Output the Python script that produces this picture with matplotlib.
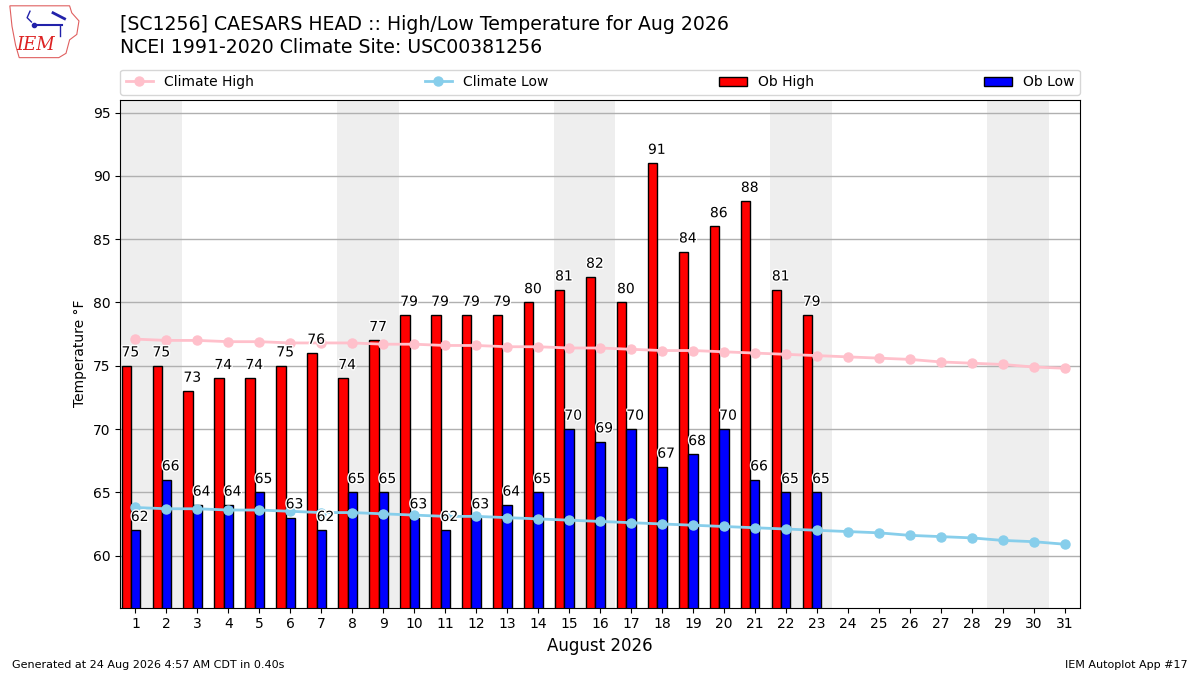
import matplotlib
matplotlib.use("Agg")
import matplotlib.pyplot as plt
import matplotlib.patheffects as pe
from matplotlib.patches import Polygon
import numpy as np

days = list(range(1, 32))
clim_high = [77.1, 77.0, 77.0, 76.9, 76.9, 76.8, 76.8, 76.8, 76.7, 76.7, 76.6, 76.6,
             76.5, 76.5, 76.4, 76.4, 76.3, 76.2, 76.2, 76.1, 76.0, 75.9, 75.8, 75.7,
             75.6, 75.5, 75.3, 75.2, 75.1, 74.9, 74.8]
clim_low = [63.8, 63.7, 63.7, 63.6, 63.6, 63.5, 63.4, 63.4, 63.3, 63.2, 63.1, 63.1,
            63.0, 62.9, 62.8, 62.7, 62.6, 62.5, 62.4, 62.3, 62.2, 62.1, 62.0, 61.9,
            61.8, 61.6, 61.5, 61.4, 61.2, 61.1, 60.9]
ob_days = list(range(1, 24))
ob_high = [75, 75, 73, 74, 74, 75, 76, 74, 77, 79, 79, 79, 79, 80, 81, 82, 80, 91, 84, 86, 88, 81, 79]
ob_low = [62, 66, 64, 64, 65, 63, 62, 65, 65, 63, 62, 63, 64, 65, 70, 69, 70, 67, 68, 70, 66, 65, 65]
weekend_starts = [1, 8, 15, 22, 29]

title1 = "[SC1256] CAESARS HEAD :: High/Low Temperature for Aug 2026"
title2 = "NCEI 1991-2020 Climate Site: USC00381256"

fig = plt.figure(figsize=(12, 6.75), dpi=100)
ax = fig.add_axes([0.1, 0.1, 0.8, 0.752])

for d in weekend_starts:
    ax.axvspan(d - 0.5, d + 1.5, color="#eeeeee", zorder=0, lw=0)

od = np.array(ob_days)
ax.bar(od - 0.3, ob_high, width=0.3, color="red", edgecolor="black", lw=1,
       label="Ob High", zorder=2)
ax.bar(od, ob_low, width=0.3, color="blue", edgecolor="black", lw=1,
       label="Ob Low", zorder=2)

ax.plot(days, clim_high, marker="o", color="pink", lw=2, ms=6.5,
        label="Climate High", zorder=3)
ax.plot(days, clim_low, marker="o", color="skyblue", lw=2, ms=6.5,
        label="Climate Low", zorder=3)

stroke = [pe.withStroke(linewidth=2, foreground="white")]
for d, v in zip(ob_days, ob_high):
    ax.text(d - 0.45, v + 0.5, f"{v}", ha="left", va="bottom", fontsize=10,
            zorder=4, path_effects=stroke)
for d, v in zip(ob_days, ob_low):
    ax.text(d - 0.15, v + 0.5, f"{v}", ha="left", va="bottom", fontsize=10,
            zorder=4, path_effects=stroke)

ax.set_xlim(0.5, 31.5)
ax.set_ylim(55.9, 96.0)
ax.set_xticks(days)
ax.set_yticks(range(60, 96, 5))
ax.set_axisbelow(True)
ax.yaxis.grid(True, color="#b0b0b0", lw=1)
ax.set_xlabel("August 2026", fontsize=12)
ax.set_ylabel("Temperature °F", fontsize=10)

handles, labels = ax.get_legend_handles_labels()
order = [labels.index(n) for n in ["Climate High", "Climate Low", "Ob High", "Ob Low"]]
ax.legend([handles[i] for i in order], [labels[i] for i in order],
          loc="lower left", bbox_to_anchor=(0.0, 1.01, 1.0, 0.05), mode="expand",
          ncol=4, borderaxespad=0, fontsize=10)

fig.text(0.1, 0.963, title1, fontsize=13.6, ha="left", va="center")
fig.text(0.1, 0.929, title2, fontsize=13.6, ha="left", va="center")

fig.text(0.01, 0.015, "Generated at 24 Aug 2026 4:57 AM CDT in 0.40s", fontsize=8,
         ha="left", va="center")
fig.text(0.99, 0.015, "IEM Autoplot App #17", fontsize=8, ha="right", va="center")

# simple IEM logo
lax = fig.add_axes([0.007, 0.913, 0.060, 0.080])
lax.set_xlim(0, 1)
lax.set_ylim(0, 1)
lax.axis("off")
outline = [(0.02, 0.98), (0.85, 0.98), (0.88, 0.85), (0.98, 0.7), (0.95, 0.45),
           (0.85, 0.35), (0.8, 0.1), (0.7, 0.02), (0.15, 0.02), (0.1, 0.25),
           (0.05, 0.6), (0.02, 0.98)]
lax.add_patch(Polygon(outline, closed=True, fill=False, edgecolor="#e06060", lw=0.8))
lax.text(0.38, 0.25, "IEM", color="#dd2222", fontsize=13, family="DejaVu Serif",
         style="italic", ha="center", va="center")
lax.plot([0.35, 0.75], [0.62, 0.62], color="#2222aa", lw=1.5)
lax.plot([0.35], [0.62], marker="o", color="#2222aa", ms=3)
lax.plot([0.62, 0.78], [0.85, 0.74], color="#2222aa", lw=2)
lax.plot([0.3, 0.26, 0.32], [0.88, 0.76, 0.68], color="#2222aa", lw=1)
lax.plot([0.72, 0.72], [0.62, 0.42], color="#2222aa", lw=1)

fig.savefig("out.png", dpi=100)
